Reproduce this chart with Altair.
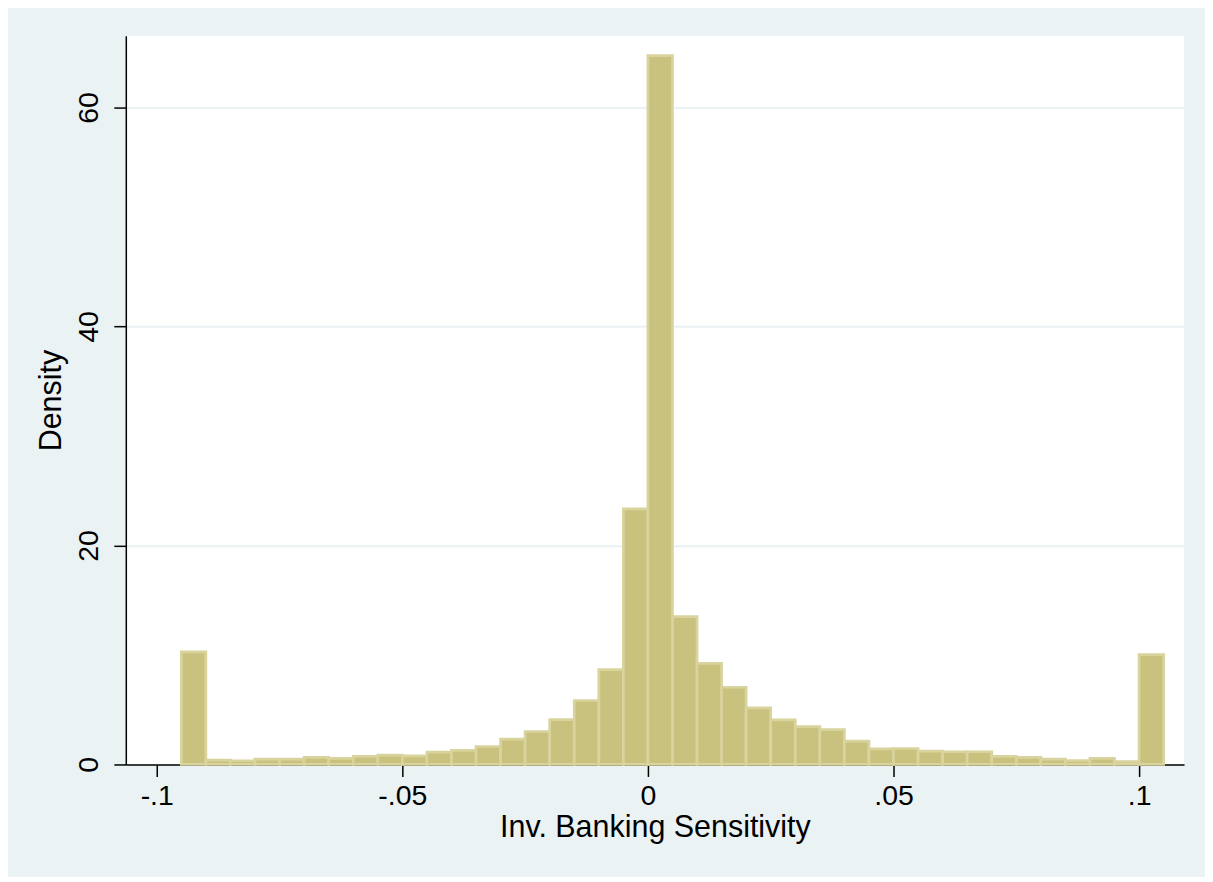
import altair as alt
import pandas as pd

# Histogram bins (left edges) and bar densities
bin_left = [-0.095, -0.090, -0.085, -0.080, -0.075, -0.070, -0.065, -0.060,
            -0.055, -0.050, -0.045, -0.040, -0.035, -0.030, -0.025, -0.020,
            -0.015, -0.010, -0.005, 0.000, 0.005, 0.010, 0.015, 0.020,
            0.025, 0.030, 0.035, 0.040, 0.045, 0.050, 0.055, 0.060,
            0.065, 0.070, 0.075, 0.080, 0.085, 0.090, 0.095, 0.100]
bin_width = 0.005
density = [10.28, 0.39, 0.34, 0.48, 0.48, 0.64, 0.55, 0.73,
           0.85, 0.78, 1.12, 1.28, 1.64, 2.31, 3.01, 4.10,
           5.84, 8.66, 23.34, 64.74, 13.50, 9.24, 7.05, 5.17,
           4.07, 3.46, 3.19, 2.13, 1.42, 1.46, 1.22, 1.16,
           1.16, 0.73, 0.64, 0.48, 0.36, 0.55, 0.27, 10.03]

x_ticks = [-0.1, -0.05, 0, 0.05, 0.1]
y_ticks = [0, 20, 40, 60]

df = pd.DataFrame({
    "x0": bin_left,
    "x1": [b + bin_width for b in bin_left],
    "density": density,
})

FONT = "Liberation Sans"
LFS = 28.5
TFS = 30.5

bars = alt.Chart(df).mark_rect(
    fill="#C9C27F", stroke="#D9D49D", strokeWidth=2.7
).encode(
    x=alt.X(
        "x0:Q",
        scale=alt.Scale(domain=[-0.1063, 0.10915], nice=False, zero=False),
        axis=alt.Axis(
            values=x_ticks,
            labelExpr="datum.value == 0 ? '0' : (datum.value < 0 ? '-' : '') + replace(format(abs(datum.value), '.2~f'), '0.', '.')",
            title="Inv. Banking Sensitivity",
            grid=False,
            tickSize=12,
            labelPadding=5,
            titlePadding=3,
        ),
    ),
    x2="x1:Q",
    y=alt.Y(
        "density:Q",
        scale=alt.Scale(domain=[0, 66.56], nice=False),
        axis=alt.Axis(
            values=y_ticks,
            title="Density",
            grid=True,
            gridColor="#EAF2F3",
            gridWidth=2,
            tickSize=12,
            labelAngle=270,
            labelAlign="center",
            labelBaseline="bottom",
            labelPadding=10,
            titlePadding=8,
        ),
    ),
    y2=alt.datum(0),
)

chart = bars.properties(
    width=1060,
    height=730,
    background="#EAF2F3",
    padding={"left": 118, "top": 27, "right": 21, "bottom": 112},
    autosize=alt.AutoSizeParams(type="none"),
).configure_view(
    stroke=None, fill="white"
).configure_axis(
    labelFont=FONT,
    titleFont=FONT,
    labelFontSize=LFS,
    titleFontSize=TFS,
    labelColor="black",
    titleColor="black",
    titleFontWeight="normal",
    domainColor="black",
    domainWidth=1.5,
    tickColor="black",
    tickWidth=1.5,
)

chart.save("out.html", embed_options={"renderer": "svg", "actions": False})
